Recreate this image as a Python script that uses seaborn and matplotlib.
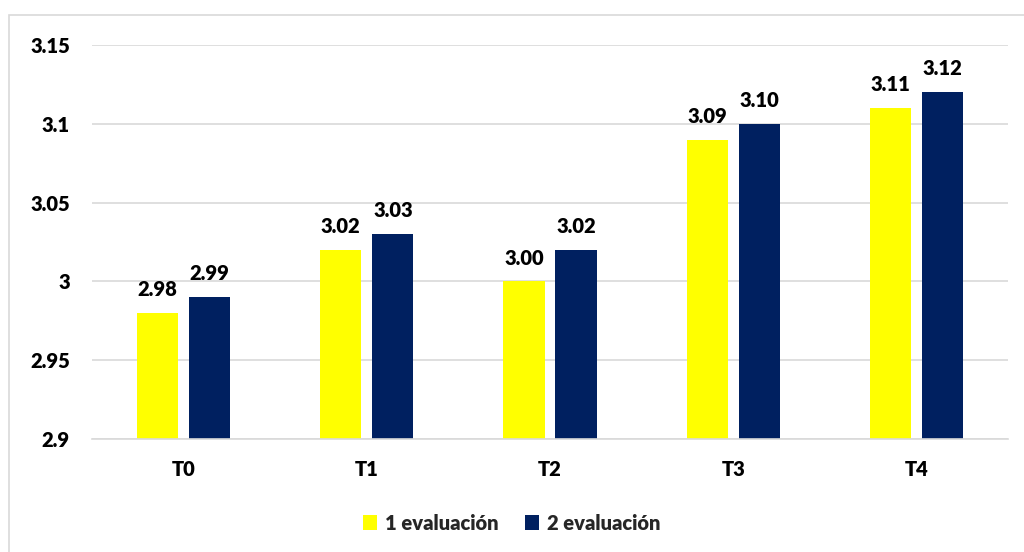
import matplotlib
matplotlib.use("Agg")
import matplotlib.pyplot as plt
import seaborn as sns
import pandas as pd
from matplotlib.patches import Rectangle

categories = ["T0", "T1", "T2", "T3", "T4"]
series_names = ["1 evaluación", "2 evaluación"]
eval1 = [2.98, 3.02, 3.00, 3.09, 3.11]
eval2 = [2.99, 3.03, 3.02, 3.10, 3.12]
yticks = [2.9, 2.95, 3.0, 3.05, 3.1, 3.15]
ytick_labels = ["2.9", "2.95", "3", "3.05", "3.1", "3.15"]
colors = ["#FFFF00", "#002060"]

df = pd.DataFrame({
    "cat": categories * 2,
    "serie": [series_names[0]] * 5 + [series_names[1]] * 5,
    "val": eval1 + eval2,
})

sns.set_theme(style="white")
plt.rcParams['font.family'] = ['Lato', 'DejaVu Sans']
plt.rcParams['font.weight'] = 'heavy'

FS = 14.5
W = 'heavy'

fig = plt.figure(figsize=(10.24, 5.52), dpi=100)
ax = fig.add_axes([92/1024, 113/552, 916/1024, 394/552])

sns.barplot(data=df, x="cat", y="val", hue="serie", palette=colors,
            width=0.568, gap=0.211, ax=ax, saturation=1, legend=True,
            linewidth=0)

ax.set_ylim(2.9, 3.15)
ax.set_xlim(-0.5, 4.5)
ax.set_yticks(yticks)
ax.set_yticklabels(ytick_labels, fontsize=FS, fontweight=W, color='#000000')
ax.set_xticks(range(len(categories)))
ax.set_xticklabels(categories, fontsize=FS, fontweight=W, color='#000000')
ax.tick_params(axis='x', pad=15, length=0)
ax.tick_params(axis='y', pad=16, length=0)
ax.set_xlabel("")
ax.set_ylabel("")
ax.yaxis.grid(True, color="#D9D9D9", linewidth=1.2)
ax.set_axisbelow(True)
for s in ["left", "right", "top"]:
    ax.spines[s].set_visible(False)
ax.spines["bottom"].set_color("#D9D9D9")
ax.spines["bottom"].set_linewidth(1.2)

for cont in ax.containers:
    ax.bar_label(cont, fmt="%.2f", padding=10, fontsize=FS, fontweight=W, color='#000000')

leg = ax.legend(loc="center", bbox_to_anchor=(512/1024, 1 - 523/552),
                bbox_transform=fig.transFigure, ncol=2, frameon=False,
                prop={'size': FS, 'weight': W}, handlelength=0.7,
                handleheight=0.7, columnspacing=1.3, handletextpad=0.4)

fig.patches.append(Rectangle((9/1024, -0.01), 1.02, (552-15)/552 + 0.01,
                             transform=fig.transFigure, fill=False,
                             edgecolor="#D9D9D9", linewidth=1.2))

fig.savefig("out.png", dpi=100)
